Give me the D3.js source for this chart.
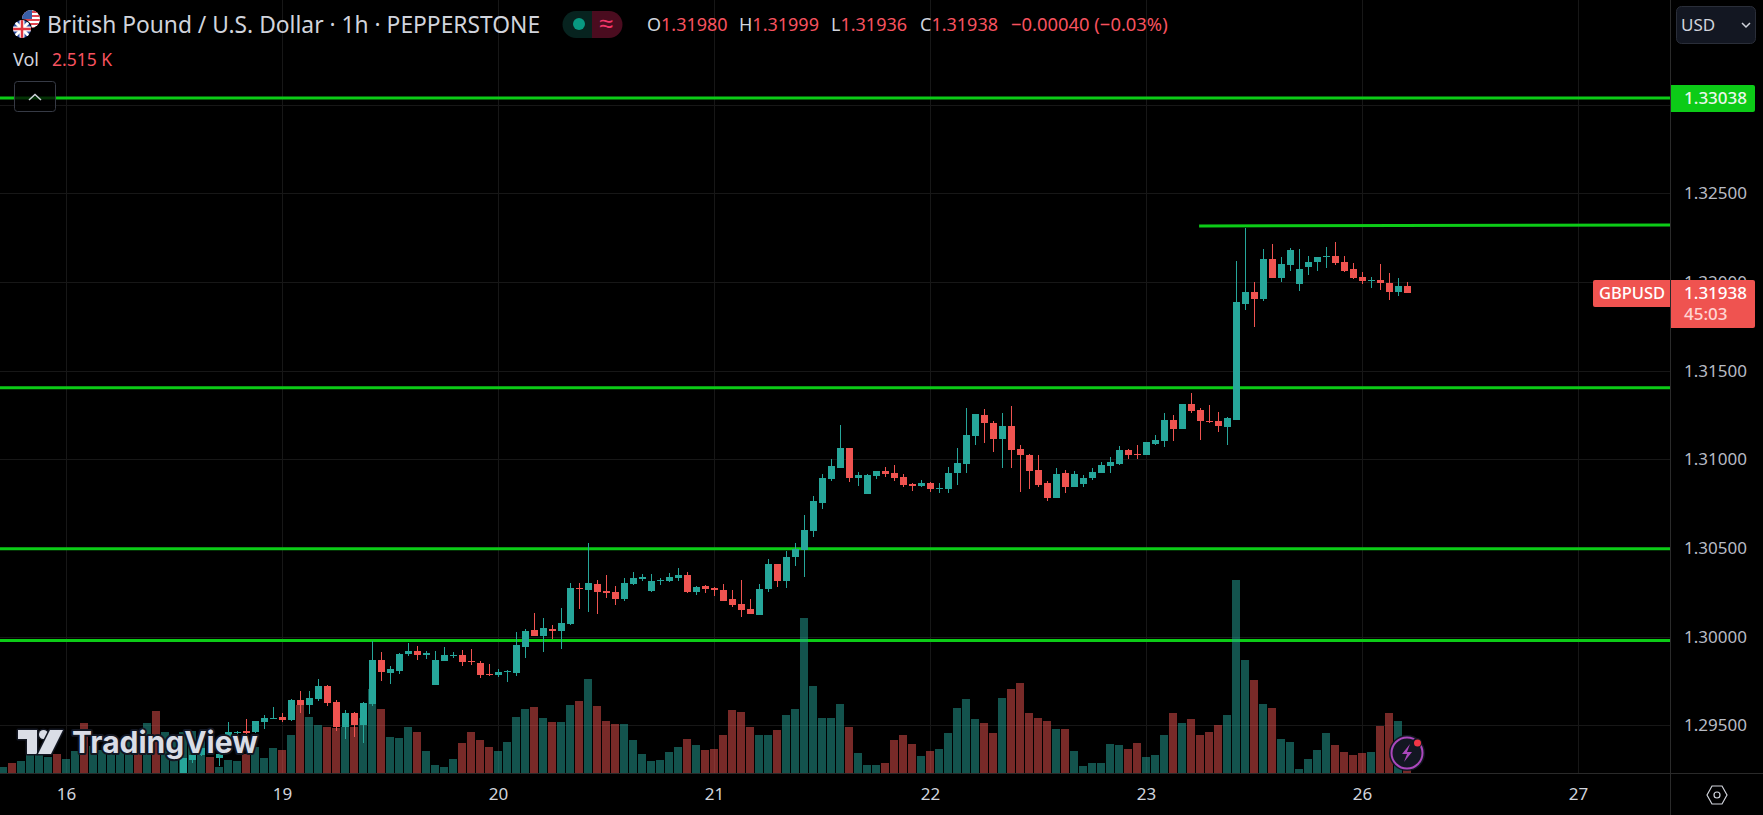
<!DOCTYPE html>
<html>
<head>
<meta charset="utf-8">
<title>GBPUSD</title>
<script src="https://cdn.jsdelivr.net/npm/d3@7"></script>
<style>
  html, body { margin: 0; background: #000; overflow: hidden; }
  svg { display: block; font-family: "Noto Sans", sans-serif; }
</style>
</head>
<body>
<svg id="chart" width="1763" height="815"></svg>
<script>
// bar numbers are hours from the "16" date tick, candles under the pane bottom are left out
const firstVolBar = -7;
const firstCandleBar = 13;

const dateBars = [0, 24, 48, 72, 96, 120, 144, 168];
const dateLabels = ['16', '19', '20', '21', '22', '23', '26', '27'];
const priceTicks = [1.295, 1.3, 1.305, 1.31, 1.315, 1.32, 1.325];
const gridPrices = [1.295, 1.3, 1.305, 1.31, 1.315, 1.32, 1.325, 1.33];

const opens = [
  1.29220,1.29303,1.29333,1.29370,1.29316,1.29380,1.29459,1.29468,1.29460,1.29519,
  1.29536,1.29547,1.29530,1.29643,1.29615,1.29648,1.29722,1.29632,1.29491,1.29569,
  1.29502,1.29620,1.29868,1.29795,1.29806,1.29902,1.29919,1.29897,1.29727,1.29863,
  1.29895,1.29897,1.29863,1.29851,1.29789,1.29784,1.29799,1.29795,1.29942,1.30038,
  1.30004,1.30043,1.30032,1.30071,1.30274,1.30263,1.30297,1.30258,1.30252,1.30212,
  1.30297,1.30325,1.30258,1.30314,1.30314,1.30331,1.30348,1.30252,1.30286,1.30274,
  1.30263,1.30212,1.30184,1.30156,1.30122,1.30269,1.30410,1.30314,1.30449,1.30489,
  1.30596,1.30754,1.30889,1.30951,1.31064,1.30895,1.30805,1.30906,1.30934,1.30923,
  1.30900,1.30861,1.30850,1.30867,1.30833,1.30833,1.30923,1.30974,1.31132,1.31250,
  1.31205,1.31115,1.31188,1.31058,1.31025,1.30940,1.30867,1.30782,1.30923,1.30844,
  1.30861,1.30895,1.30923,1.30963,1.30974,1.31053,1.31030,1.31024,1.31086,1.31103,
  1.31222,1.31171,1.31312,1.31278,1.31216,1.31216,1.31182,1.31222,1.31876,1.31944,
  1.31904,1.32130,1.32023,1.32096,1.31989,1.32085,1.32113,1.32141,1.32147,1.32113,
  1.32073,1.32028,1.32006,1.32011,1.31994,1.31944,1.31980
];
const highs = [
  1.29314,1.29342,1.29375,1.29380,1.29340,1.29517,1.29470,1.29536,1.29527,1.29558,
  1.29603,1.29568,1.29648,1.29694,1.29694,1.29761,1.29727,1.29643,1.29586,1.29575,
  1.29633,1.29976,1.29915,1.29835,1.29908,1.29964,1.29947,1.29919,1.29919,1.29942,
  1.29914,1.29925,1.29930,1.29863,1.29846,1.29818,1.29812,1.30026,1.30043,1.30133,
  1.30105,1.30066,1.30162,1.30303,1.30303,1.30528,1.30320,1.30348,1.30286,1.30331,
  1.30365,1.30353,1.30353,1.30331,1.30359,1.30387,1.30365,1.30286,1.30291,1.30280,
  1.30297,1.30263,1.30320,1.30212,1.30297,1.30438,1.30410,1.30483,1.30528,1.30686,
  1.30793,1.30917,1.31002,1.31194,1.31064,1.30929,1.30917,1.30934,1.30957,1.30968,
  1.30917,1.30867,1.30884,1.30872,1.30867,1.30957,1.31064,1.31290,1.31256,1.31284,
  1.31216,1.31261,1.31301,1.31081,1.31030,1.31025,1.30878,1.30951,1.30940,1.30934,
  1.30912,1.30951,1.30985,1.31013,1.31075,1.31058,1.31081,1.31098,1.31137,1.31261,
  1.31250,1.31312,1.31374,1.31289,1.31306,1.31267,1.31239,1.32119,1.32305,1.32000,
  1.32186,1.32214,1.32141,1.32192,1.32186,1.32147,1.32141,1.32197,1.32226,1.32147,
  1.32107,1.32056,1.32028,1.32102,1.32051,1.32023,1.31999
];
const lows = [
  1.29220,1.29289,1.29325,1.29330,1.29272,1.29370,1.29449,1.29445,1.29455,1.29479,
  1.29536,1.29521,1.29524,1.29571,1.29564,1.29637,1.29611,1.29468,1.29423,1.29434,
  1.29400,1.29609,1.29750,1.29733,1.29789,1.29891,1.29868,1.29874,1.29727,1.29863,
  1.29880,1.29835,1.29840,1.29767,1.29778,1.29773,1.29744,1.29778,1.29880,1.30004,
  1.29914,1.29987,1.29930,1.30066,1.30156,1.30139,1.30128,1.30218,1.30179,1.30201,
  1.30291,1.30314,1.30252,1.30291,1.30308,1.30314,1.30246,1.30235,1.30246,1.30229,
  1.30201,1.30167,1.30111,1.30128,1.30122,1.30252,1.30280,1.30274,1.30399,1.30337,
  1.30562,1.30720,1.30878,1.30951,1.30872,1.30850,1.30805,1.30889,1.30900,1.30878,
  1.30844,1.30822,1.30844,1.30816,1.30810,1.30810,1.30855,1.30923,1.31081,1.31092,
  1.31042,1.30951,1.30951,1.30816,1.30833,1.30844,1.30765,1.30782,1.30810,1.30844,
  1.30844,1.30884,1.30923,1.30923,1.30969,1.31002,1.31002,1.31024,1.31081,1.31069,
  1.31103,1.31171,1.31261,1.31109,1.31205,1.31154,1.31081,1.31222,1.31842,1.31746,
  1.31893,1.32023,1.32000,1.32062,1.31949,1.32040,1.32062,1.32079,1.32096,1.32056,
  1.32017,1.31989,1.31966,1.31955,1.31899,1.31921,1.31936
];
const closes = [
  1.29314,1.29333,1.29370,1.29340,1.29336,1.29464,1.29462,1.29459,1.29524,1.29541,
  1.29541,1.29530,1.29643,1.29615,1.29654,1.29722,1.29626,1.29491,1.29569,1.29502,
  1.29626,1.29868,1.29801,1.29818,1.29902,1.29919,1.29897,1.29908,1.29868,1.29897,
  1.29898,1.29857,1.29859,1.29784,1.29784,1.29801,1.29804,1.29953,1.30032,1.30004,
  1.30049,1.30032,1.30077,1.30274,1.30269,1.30303,1.30252,1.30246,1.30212,1.30303,
  1.30331,1.30337,1.30314,1.30320,1.30337,1.30348,1.30252,1.30280,1.30269,1.30263,
  1.30201,1.30179,1.30150,1.30128,1.30269,1.30410,1.30314,1.30449,1.30494,1.30602,
  1.30765,1.30895,1.30963,1.31064,1.30895,1.30912,1.30912,1.30934,1.30917,1.30895,
  1.30855,1.30850,1.30867,1.30833,1.30838,1.30923,1.30979,1.31137,1.31256,1.31205,
  1.31115,1.31188,1.31053,1.31025,1.30934,1.30855,1.30782,1.30917,1.30844,1.30917,
  1.30895,1.30929,1.30968,1.30985,1.31053,1.31024,1.31024,1.31098,1.31109,1.31222,
  1.31171,1.31312,1.31273,1.31216,1.31210,1.31188,1.31233,1.31887,1.31944,1.31904,
  1.32130,1.32023,1.32102,1.32181,1.32073,1.32113,1.32141,1.32147,1.32107,1.32062,
  1.32023,1.32006,1.32011,1.31994,1.31944,1.31978,1.31938
];
const volumes = [
  540,900,1080,1620,1620,1440,1710,1260,1980,4500,
  2400,2100,2700,2400,3000,2100,4500,5580,3720,3300,
  3720,3750,3300,1440,540,1170,1080,1710,2340,1350,
  2250,2070,3420,6120,5040,4320,4140,4050,4140,4140,
  4950,7560,5760,3240,3180,4170,3720,2010,750,570,
  1290,2730,3720,3000,2370,2010,2820,5070,5760,5940,
  4950,4590,4590,6120,6480,8460,6030,4680,4410,4410,
  2970,1710,1080,1170,1890,2340,3060,2520,2070,2160,
  3420,5670,5490,4140,3420,3420,3870,5220,5760,13950,
  7830,4950,4950,6210,4140,1800,720,720,900,2970,
  3420,2610,1530,1980,2160,3600,5850,6660,4860,4500,
  3600,6750,7560,8100,5400,4950,4680,3960,3960,1980,
  630,900,900,2640,2550,2190,2730,1470,1650,3450,
  5430,4530,4890,3450,3720,4350,5250,17400,10200,8400,
  6240,5880,3090,2820,390,1290,2100,3630,2550,1920,
  1650,1830,1920,4260,5430,4710,2515
];
// volume colours for the bars whose candles are off the pane
const earlyVolUp = [1,0,1,1,1,1,0,1,1,0,1,1,1,1,1,0,1,0,1,1];

// horizontal levels drawn on the chart
const levels = [1.33038, 1.31404, 1.30496, 1.29979];
const slopedLevelBars = [125.9, 178.4];
const slopedLevelPrices = [1.32316, 1.32321];

const green = '#0ccb17', up = '#26a69a', down = '#ef5350';
const paneRight = 1670, paneBottom = 773;

const x = d3.scaleLinear().domain([0, 144]).range([66, 1362]);
const y = d3.scaleLinear().domain([1.295, 1.325]).range([725.33, 193.33]);
const vol = d3.scaleLinear().domain([0, 17400]).range([paneBottom, 580]);

const candles = opens.map((o, i) => ({
  bar: firstCandleBar + i, o, h: highs[i], l: lows[i], c: closes[i]
}));
const volBars = volumes.map((v, i) => {
  const bar = firstVolBar + i;
  const isUp = bar < firstCandleBar
    ? earlyVolUp[i] === 1
    : closes[bar - firstCandleBar] >= opens[bar - firstCandleBar];
  return { bar, v, isUp };
});

const svg = d3.select('#chart');
const defs = svg.append('defs');
defs.append('clipPath').attr('id', 'pane').append('rect')
  .attr('width', paneRight).attr('height', paneBottom);
defs.append('clipPath').attr('id', 'ukClip').append('circle').attr('cx', 22).attr('cy', 29).attr('r', 9);
defs.append('clipPath').attr('id', 'usClip').append('circle').attr('cx', 31).attr('cy', 19).attr('r', 9);

// grid
const grid = svg.append('g').attr('stroke', '#171717').attr('shape-rendering', 'crispEdges');
grid.selectAll('.v').data(dateBars).join('line').attr('class', 'v')
  .attr('x1', d => x(d) + 0.5).attr('x2', d => x(d) + 0.5).attr('y1', 0).attr('y2', paneBottom);
grid.selectAll('.h').data(gridPrices).join('line').attr('class', 'h')
  .attr('x1', 0).attr('x2', paneRight)
  .attr('y1', d => Math.round(y(d)) + 0.5).attr('y2', d => Math.round(y(d)) + 0.5);

const pane = svg.append('g').attr('clip-path', 'url(#pane)');

// green levels sit under the bars
pane.selectAll('.level').data(levels).join('line').attr('class', 'level')
  .attr('x1', 0).attr('x2', paneRight)
  .attr('y1', d => y(d)).attr('y2', d => y(d))
  .attr('stroke', green).attr('stroke-width', 3);
pane.append('line')
  .attr('x1', x(slopedLevelBars[0])).attr('x2', x(slopedLevelBars[1]))
  .attr('y1', y(slopedLevelPrices[0])).attr('y2', y(slopedLevelPrices[1]))
  .attr('stroke', green).attr('stroke-width', 3);

// volume
pane.selectAll('.vol').data(volBars).join('rect').attr('class', 'vol')
  .attr('x', d => x(d.bar) - 4).attr('width', 8)
  .attr('y', d => vol(d.v)).attr('height', d => paneBottom - vol(d.v))
  .attr('fill', d => d.isUp ? up : down).attr('fill-opacity', 0.5)
  .attr('shape-rendering', 'crispEdges');

// candles
const candle = pane.selectAll('.candle').data(candles).join('g').attr('class', 'candle')
  .attr('fill', d => d.c >= d.o ? up : down).attr('shape-rendering', 'crispEdges');
candle.append('rect')
  .attr('x', d => x(d.bar)).attr('width', 1)
  .attr('y', d => y(d.h)).attr('height', d => y(d.l) - y(d.h));
candle.append('rect')
  .attr('x', d => x(d.bar) - 3).attr('width', 7)
  .attr('y', d => y(Math.max(d.o, d.c)))
  .attr('height', d => Math.max(1, Math.abs(y(d.o) - y(d.c))));

// watermark
const mark = svg.append('g').attr('fill', '#dadde6').attr('stroke', '#131722').attr('stroke-width', 3)
  .attr('paint-order', 'stroke').attr('stroke-linejoin', 'round');
mark.append('path').attr('d', 'M18,730h19v24h-10v-15h-9z');
mark.append('circle').attr('cx', 43.5).attr('cy', 734.5).attr('r', 4.5);
mark.append('path').attr('d', 'M50,730h13l-12,24h-13z');
mark.append('text').attr('x', 72).attr('y', 753).attr('font-size', 30).attr('font-weight', 700)
  .attr('font-family', 'Inter, sans-serif').attr('stroke-width', 4).text('TradingView');

// axes frame
const frame = svg.append('g').attr('stroke', '#2a2a2a').attr('shape-rendering', 'crispEdges');
frame.append('line').attr('x1', paneRight + 0.5).attr('x2', paneRight + 0.5).attr('y1', 0).attr('y2', 815);
frame.append('line').attr('x1', 0).attr('x2', 1763).attr('y1', paneBottom + 0.5).attr('y2', paneBottom + 0.5);

const yAxis = svg.append('g').attr('transform', `translate(${paneRight},0)`)
  .call(d3.axisRight(y).tickValues(priceTicks).tickFormat(d3.format('.5f')).tickSize(0));
yAxis.select('.domain').remove();
yAxis.selectAll('text').attr('x', 77).attr('text-anchor', 'end')
  .attr('font-size', 17).attr('font-family', '"Noto Sans", sans-serif').attr('fill', '#b8bbc4');

const xAxis = svg.append('g').attr('transform', `translate(0,${paneBottom})`)
  .call(d3.axisBottom(x).tickValues(dateBars).tickFormat((d, i) => dateLabels[i]).tickSize(0));
xAxis.select('.domain').remove();
xAxis.selectAll('text').attr('y', 15).attr('font-size', 17)
  .attr('font-family', '"Noto Sans", sans-serif').attr('fill', '#d1d4dc');

// price tags
const lastPrice = closes[closes.length - 1];
svg.append('path').attr('d', 'M1671,85h82a2,2 0 0 1 2,2v23a2,2 0 0 1 -2,2h-82z').attr('fill', green);
svg.append('text').attr('x', 1747).attr('y', y(levels[0]) + 6).attr('text-anchor', 'end')
  .attr('font-size', 17).attr('font-weight', 500).attr('fill', '#eaf7ea').text(d3.format('.5f')(levels[0]));
svg.append('path').attr('d', 'M1671,280h82a2,2 0 0 1 2,2v44a2,2 0 0 1 -2,2h-82z').attr('fill', down);
svg.append('path').attr('d', 'M1670,280h-75a2,2 0 0 0 -2,2v23a2,2 0 0 0 2,2h75z').attr('fill', down);
svg.append('text').attr('x', 1747).attr('y', 299).attr('text-anchor', 'end')
  .attr('font-size', 17).attr('font-weight', 500).attr('fill', '#fff').text(d3.format('.5f')(lastPrice));
svg.append('text').attr('x', 1684).attr('y', 320).attr('font-size', 17).attr('font-weight', 500).attr('fill', '#ffd5d3').text('45:03');
svg.append('text').attr('x', 1599).attr('y', 299).attr('font-size', 16.5).attr('font-weight', 500).attr('fill', '#fff').text('GBPUSD');

// legend
const flags = svg.append('g');
flags.append('circle').attr('cx', 31).attr('cy', 19).attr('r', 9).attr('fill', '#fff');
const us = flags.append('g').attr('clip-path', 'url(#usClip)');
d3.range(5).forEach(k => us.append('rect').attr('x', 22).attr('width', 18).attr('y', 11 + k * 4).attr('height', 2).attr('fill', '#e0444f'));
us.append('rect').attr('x', 22).attr('y', 10).attr('width', 10).attr('height', 9).attr('fill', '#3a5fa8');
flags.append('circle').attr('cx', 22).attr('cy', 29).attr('r', 10).attr('fill', '#000');
const uk = flags.append('g').attr('clip-path', 'url(#ukClip)');
uk.append('rect').attr('x', 13).attr('y', 20).attr('width', 18).attr('height', 18).attr('fill', '#2b4a9e');
uk.append('path').attr('d', 'M13,20L31,38M31,20L13,38').attr('stroke', '#fff').attr('stroke-width', 3);
uk.append('path').attr('d', 'M22,20V38M13,29H31').attr('stroke', '#fff').attr('stroke-width', 5);
uk.append('path').attr('d', 'M22,20V38M13,29H31').attr('stroke', '#e0343f').attr('stroke-width', 2.5);

svg.append('text').attr('x', 47).attr('y', 33).attr('font-size', 22.8).attr('fill', '#d1d4dc')
  .text('British Pound / U.S. Dollar · 1h · PEPPERSTONE');

svg.append('path').attr('d', 'M592,11h-16a13,13 0 0 0 0,27h16z').attr('fill', '#07231f');
svg.append('path').attr('d', 'M592,11h17a13,13 0 0 1 0,27h-17z').attr('fill', '#4a0c1f');
svg.append('circle').attr('cx', 579).attr('cy', 24).attr('r', 6).attr('fill', '#089981');
svg.append('text').attr('x', 606).attr('y', 32).attr('text-anchor', 'middle').attr('font-size', 25)
  .attr('fill', '#f23669').text('≈');

const legendFields = [
  { x: 647, label: 'O', value: opens[opens.length - 1] },
  { x: 739, label: 'H', value: highs[highs.length - 1] },
  { x: 831, label: 'L', value: lows[lows.length - 1] },
  { x: 920, label: 'C', value: lastPrice }
];
const legendRow = svg.append('g').attr('font-size', 18);
legendFields.forEach(f => {
  const t = legendRow.append('text').attr('x', f.x).attr('y', 31);
  t.append('tspan').attr('fill', '#d1d4dc').text(f.label);
  t.append('tspan').attr('fill', '#f7525f').text(d3.format('.5f')(f.value));
});
legendRow.append('text').attr('x', 1011).attr('y', 31).attr('font-size', 18.4).attr('fill', '#f7525f').text('−0.00040 (−0.03%)');

svg.append('text').attr('x', 13).attr('y', 66).attr('font-size', 18).attr('fill', '#d1d4dc').text('Vol');
svg.append('text').attr('x', 52).attr('y', 66).attr('font-size', 17.5).attr('fill', '#f7525f').text('2.515 K');

// buttons and icons
svg.append('rect').attr('x', 14.5).attr('y', 81.5).attr('width', 41).attr('height', 30).attr('rx', 3)
  .attr('fill', '#000').attr('fill-opacity', 0.75).attr('stroke', '#363a45');
svg.append('path').attr('d', 'M29,100l6,-5.5l6,5.5').attr('fill', 'none').attr('stroke', '#d1d4dc').attr('stroke-width', 1.5);

svg.append('rect').attr('x', 1676.5).attr('y', 6.5).attr('width', 79).attr('height', 37).attr('rx', 5)
  .attr('fill', '#131722').attr('stroke', '#2a2e39');
svg.append('text').attr('x', 1681).attr('y', 31).attr('font-size', 17).attr('fill', '#d1d4dc').text('USD');
svg.append('path').attr('d', 'M1742,23l4,4l4,-4').attr('fill', 'none').attr('stroke', '#d1d4dc').attr('stroke-width', 1.5);

svg.append('path').attr('d', 'M1707,795l5,-9h10l5,9l-5,9h-10z').attr('fill', 'none').attr('stroke', '#d1d4dc').attr('stroke-width', 1.2);
svg.append('circle').attr('cx', 1717).attr('cy', 795).attr('r', 3).attr('fill', 'none').attr('stroke', '#d1d4dc').attr('stroke-width', 1.2);

svg.append('circle').attr('cx', 1407).attr('cy', 753).attr('r', 18).attr('fill', '#131722');
svg.append('circle').attr('cx', 1407).attr('cy', 753).attr('r', 15.5).attr('fill', '#131722').attr('stroke', '#ab47bc').attr('stroke-width', 2);
svg.append('path').attr('d', 'M1410,744l-8,10h5l-3,8l8,-10h-5z').attr('fill', '#ab47bc');
svg.append('circle').attr('cx', 1417).attr('cy', 743).attr('r', 5).attr('fill', '#131722');
svg.append('circle').attr('cx', 1417.5).attr('cy', 743).attr('r', 3.5).attr('fill', '#f23645');
</script>
</body>
</html>
